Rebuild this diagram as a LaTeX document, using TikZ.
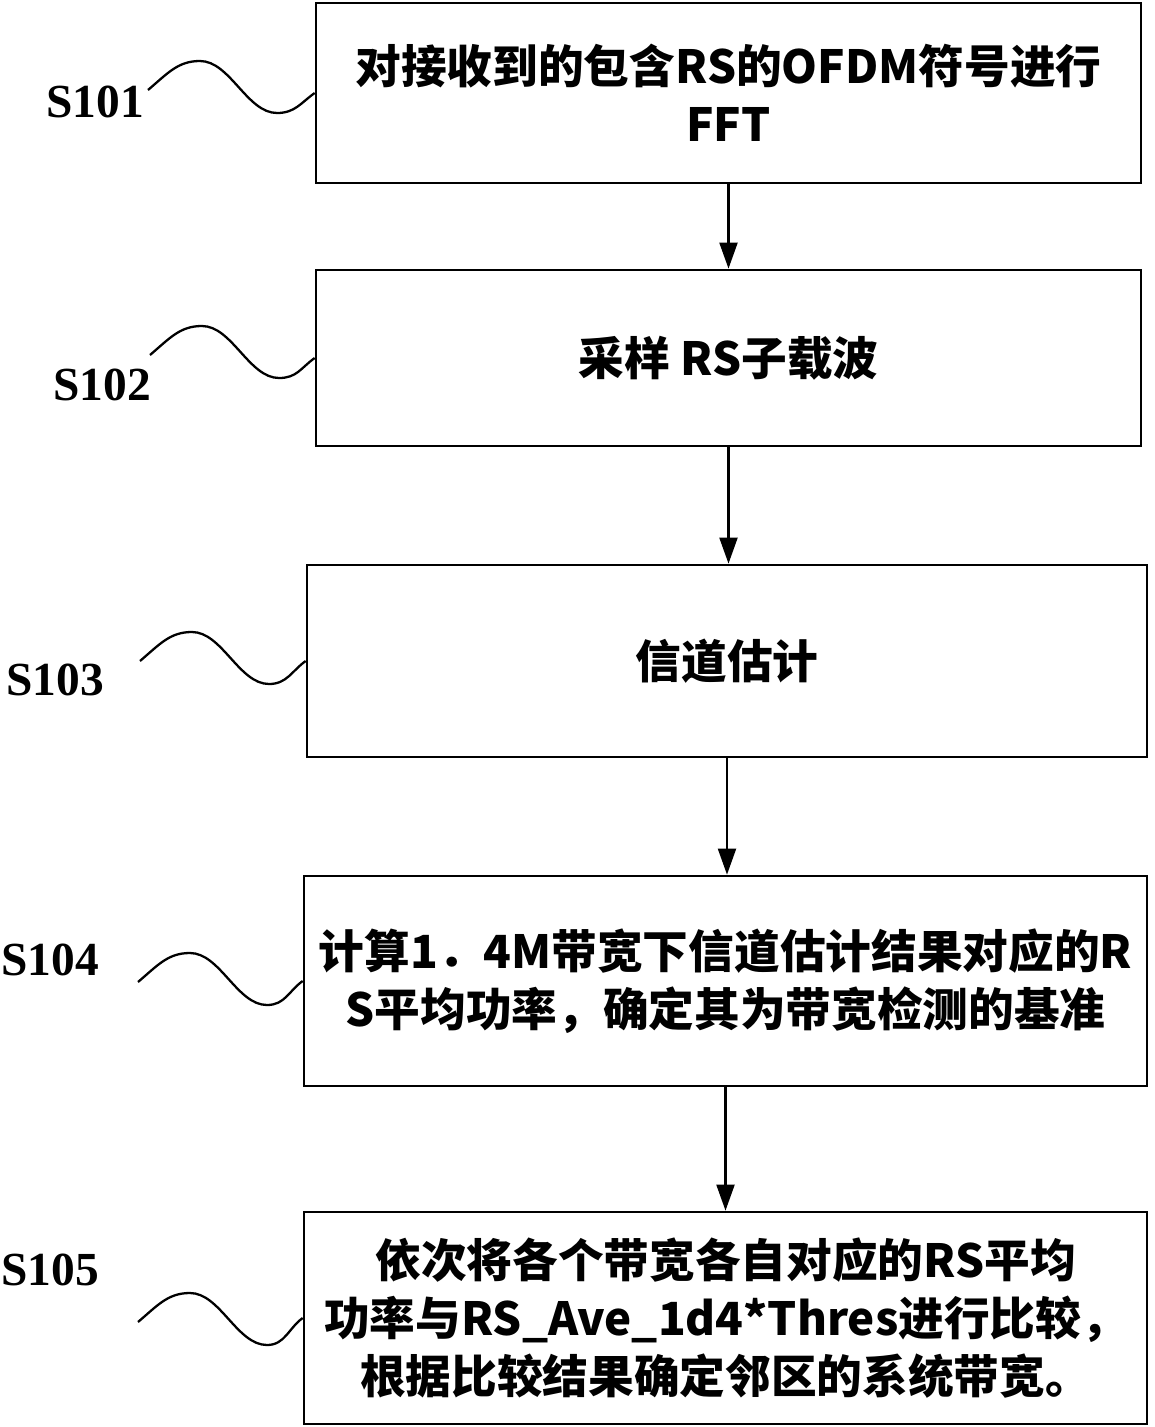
\documentclass[tikz,border=0pt]{standalone}
\usepackage{fontspec}
\setmainfont{Noto Sans CJK SC}
\newfontfamily\stepfont{Liberation Serif}
\usetikzlibrary{arrows.meta}
\def\stepwave(#1)(#2){\draw[line width=1.3pt] (#1) .. controls +(20,-17) and +(-22,0) .. ++(52,-29) .. controls +(30,0) and +(-30,0) .. ++(77,52) .. controls +(18,0) and +(-14,10) .. (#2);}

\begin{document}
\begin{tikzpicture}[x=0.02cm, y=-0.02cm,
		stepbox/.style={draw, line width=1.6pt, align=center, inner sep=0pt, font=\bfseries\fontsize{26}{33}\selectfont},
		steplabel/.style={inner sep=0pt, font=\stepfont\bfseries\fontsize{27}{30}\selectfont},
		flow/.style={line width=1.2pt, -{Triangle[length=0.52cm,width=0.36cm]}}]
			%%%%% START %%%%%
			
			\useasboundingbox (0, 0) rectangle (1155, 1427);
			
			\node[stepbox, minimum width=16.5cm, minimum height=3.6cm] (fft) at (728.5, 93) {对接收到的包含RS的OFDM符号进行\\FFT};
			\node[stepbox, minimum width=16.5cm, minimum height=3.52cm] (sampling) at (728.5, 358) {采样 RS子载波};
			\node[stepbox, minimum width=16.8cm, minimum height=3.84cm] (estimate) at (727, 661) {信道估计};
			\node[stepbox, minimum width=16.86cm, minimum height=4.2cm] (reference) at (725.5, 981) {计算1．4M带宽下信道估计结果对应的R\\S平均功率，确定其为带宽检测的基准};
			\node[stepbox, minimum width=16.86cm, minimum height=4.24cm] (compare) at (725.5, 1318) {依次将各个带宽各自对应的RS平均\\功率与RS\_Ave\_1d4*Thres进行比较，\\根据比较结果确定邻区的系统带宽。};
			
			\draw[flow] (fft.south) -- (fft.south |- sampling.north);
			\draw[flow] (sampling.south) -- (sampling.south |- estimate.north);
			\draw[flow] (estimate.south) -- (estimate.south |- reference.north);
			\draw[flow] (reference.south) -- (reference.south |- compare.north);
			
			\node[steplabel] (s101) at (95, 102) {S101};
			\node[steplabel] (s102) at (102, 385) {S102};
			\node[steplabel] (s103) at (55, 680) {S103};
			\node[steplabel] (s104) at (50, 960) {S104};
			\node[steplabel] (s105) at (50, 1270) {S105};
			
			\coordinate (w101) at (148, 90);
			\coordinate (w102) at (150, 355);
			\coordinate (w103) at (140, 661);
			\coordinate (w104) at (138, 982);
			\coordinate (w105) at (138, 1322);
			
			\stepwave(w101)(fft.west)
			\stepwave(w102)(sampling.west)
			\stepwave(w103)(estimate.west)
			\stepwave(w104)(reference.west)
			\stepwave(w105)(compare.west)
			
			%%%%% END %%%%%
\end{tikzpicture}
\end{document}
